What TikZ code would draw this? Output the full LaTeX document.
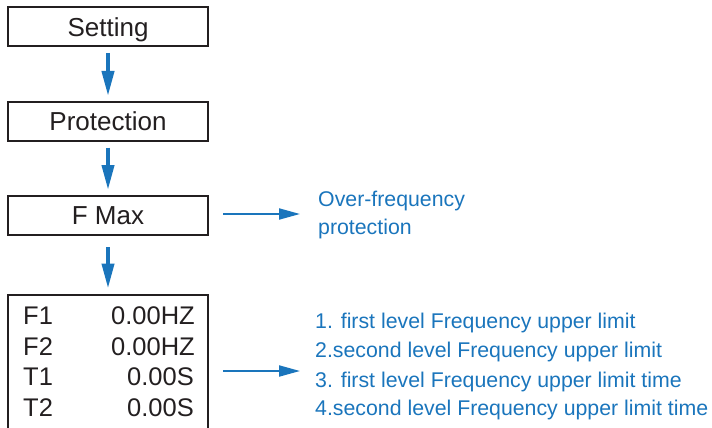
\documentclass[tikz,border=0pt]{standalone}
\usepackage{fontspec}
\setmainfont{Liberation Sans}
\usetikzlibrary{arrows.meta}
\definecolor{arrowblue}{RGB}{26,117,188}
\definecolor{boxline}{RGB}{35,31,32}
\definecolor{textdark}{RGB}{35,31,32}
\begin{document}
\begin{tikzpicture}[x=1pt,y=-1pt,
 menubox/.style={draw=boxline,line width=2pt,minimum width=200pt,minimum height=39pt,inner sep=0pt,text height=18.6pt,text depth=0pt,font=\fontsize{26}{30}\selectfont,text=textdark},
 darrow/.style={draw=arrowblue,line width=4pt,-{Triangle[length=25pt,width=12pt]}},
 harrow/.style={draw=arrowblue,line width=2pt,-{Triangle[length=21pt,width=11pt]}},
 bluetext/.style={anchor=base west,inner sep=0pt,text=arrowblue,font=\fontsize{21.3}{25}\selectfont},
 rowleft/.style={anchor=base west,inner sep=0pt,text=textdark,font=\fontsize{25.5}{30}\selectfont},
 rowright/.style={anchor=base east,inner sep=0pt,text=textdark,font=\fontsize{25.5}{30}\selectfont}]
\clip (0,0) rectangle (712,428);
\useasboundingbox (0,0) rectangle (712,428);
\node[menubox] (setting) at (108,27) {Setting};
\node[menubox] (protection) at (108,121.5) {Protection};
\node[menubox] (fmax) at (108,215.5) {F Max};
\node[menubox,minimum height=165pt] (params) at (108,377.5) {};
\draw[darrow,shorten <=5.5pt,shorten >=5pt] (setting.south) -- (protection.north);
\draw[darrow,shorten <=5.5pt,shorten >=5pt] (protection.south) -- (fmax.north);
\draw[darrow,shorten <=11pt,shorten >=5.5pt] (fmax.south) -- (params.north);
\node[rowleft] (f1) at (23,324) {F1};
\node[rowright] (f1v) at (195,324) {0.00HZ};
\node[rowleft] (f2) at (23,355) {F2};
\node[rowright] (f2v) at (195,355) {0.00HZ};
\node[rowleft] (t1) at (23,385) {T1};
\node[rowright] (t1v) at (194,385) {0.00S};
\node[rowleft] (t2) at (23,416) {T2};
\node[rowright] (t2v) at (194,416) {0.00S};
\node[bluetext] (ofp1) at (318,206) {Over-frequency};
\node[bluetext] (ofp2) at (318,234) {protection};
\node[bluetext] (l1) at (315,328) {1. first level Frequency upper limit};
\node[bluetext] (l2) at (315,357) {2.second level Frequency upper limit};
\node[bluetext] (l3) at (315,387) {3. first level Frequency upper limit time};
\node[bluetext] (l4) at (315,415) {4.second level Frequency upper limit time};
\coordinate (a1) at (300,214);
\coordinate (a2) at (300,371);
\draw[harrow,shorten <=14pt] (fmax.east |- a1) -- (a1);
\draw[harrow,shorten <=14pt] (params.east |- a2) -- (a2);
\end{tikzpicture}
\end{document}
